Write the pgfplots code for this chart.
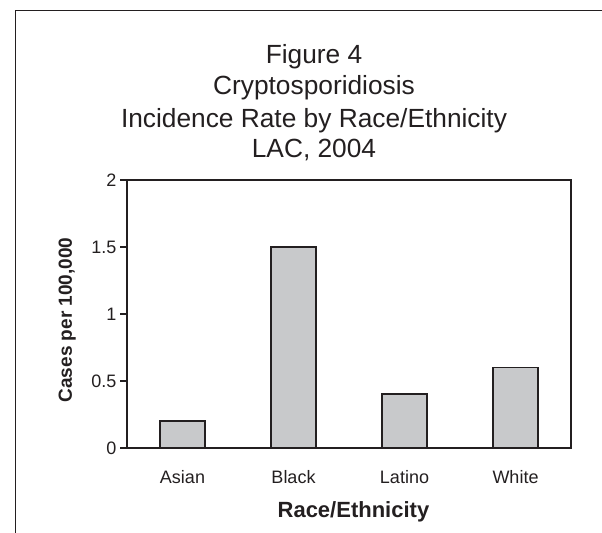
\documentclass[border=0pt]{standalone}
\usepackage{fontspec}
\setmainfont{Liberation Sans}
\usepackage{pgfplots}
\pgfplotsset{compat=1.18}

\definecolor{barfill}{RGB}{200,201,203}
\definecolor{ink}{RGB}{35,31,32}

\begin{document}
\begin{tikzpicture}[x=1bp,y=1bp]
\useasboundingbox (0,0) rectangle (602,533);
% chart area frame (only left and top edges visible)
\draw[ink, line width=1.5bp] (15.5,0) -- (15.5,522.5) -- (602,522.5);
% title lines
\tikzset{ttl/.style={anchor=base, inner sep=0pt, font=\fontsize{26.3bp}{30bp}\selectfont, text=ink}}
\node[ttl] at (314,469) {Figure 4};
\node[ttl] at (314,438) {Cryptosporidiosis};
\node[ttl] at (314,405) {Incidence Rate by Race/Ethnicity};
\node[ttl] at (314,375) {LAC, 2004};

\begin{axis}[
  at={(127bp,85bp)}, anchor=south west,
  scale only axis, width=444bp, height=268bp,
  xmin=-0.5, xmax=3.5, ymin=0, ymax=2,
  ybar, bar width=45bp,
  xtick=data, xticklabels={Asian,Black,Latino,White},
  xtick style={draw=none}, xtick align=inside,
  ytick={0,0.5,1,1.5,2}, ytick pos=left, ytick align=outside,
  major tick length=7bp,
  axis line style={ink, line width=1.6bp},
  tick style={ink, line width=1.6bp},
  /pgf/number format/assume math mode=true,
  yticklabel style={font=\fontsize{18bp}{21bp}\selectfont, text=ink},
  xticklabel style={font=\fontsize{18bp}{21bp}\selectfont, text=ink,
    anchor=north, inner sep=0pt, text height=13bp, text depth=4bp, yshift=-22bp},
  xlabel={Race/Ethnicity},
  ylabel={Cases per 100,000},
  xlabel style={font=\bfseries\fontsize{22bp}{26bp}\selectfont, text=ink,
    at={(axis description cs:0.51,-0.2575)}, anchor=base, inner sep=0pt},
  ylabel style={font=\bfseries\fontsize{19bp}{22bp}\selectfont, text=ink,
    at={(axis description cs:-0.1239,0.478)}, anchor=base, inner sep=0pt},
]
\addplot[fill=barfill, draw=ink, line width=1.8bp]
  coordinates {(0,0.2) (1,1.5) (2,0.4) (3,0.6)};
\end{axis}
\end{tikzpicture}
\end{document}
